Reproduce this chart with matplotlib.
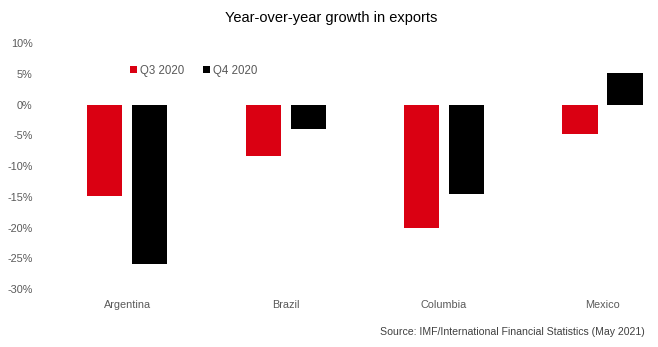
import numpy as np
import matplotlib
matplotlib.use("Agg")
import matplotlib.pyplot as plt
from matplotlib.ticker import FuncFormatter

plt.rcParams['font.family'] = ['Liberation Sans', 'DejaVu Sans']

countries = ["Argentina", "Brazil", "Columbia", "Mexico"]
q3_2020 = [-14.9, -8.3, -20.0, -4.8]
q4_2020 = [-26.0, -3.9, -14.6, 5.2]
yticks = [10, 5, 0, -5, -10, -15, -20, -25, -30]

red = "#DA0012"
grey = "#595959"

fig = plt.figure(figsize=(6.58, 3.47), dpi=100)
ax = fig.add_axes([48 / 658, 1 - 289 / 347, 610 / 658, (289 - 43.3) / 347])

x = np.arange(len(countries))
w = 0.222
off = 0.142
ax.bar(x - off, q3_2020, width=w, color=red, label="Q3 2020")
ax.bar(x + off, q4_2020, width=w, color="black", label="Q4 2020")

ax.set_xlim(-0.5, 3.35)
ax.set_ylim(-30, 10)
ax.set_yticks(yticks)
ax.yaxis.set_major_formatter(FuncFormatter(lambda v, p: f"{v:.0f}%"))
ax.set_xticks(x)
ax.set_xticklabels(countries)
ax.tick_params(axis='y', length=0, labelsize=7.8, labelcolor=grey, pad=11)
ax.tick_params(axis='x', length=0, labelsize=7.8, labelcolor=grey, pad=8)
for s in ax.spines.values():
    s.set_visible(False)

leg = ax.legend(loc="upper left", bbox_to_anchor=(0.117, 0.955), ncol=2, frameon=False,
                fontsize=8.3, handlelength=0.6, handleheight=0.6, handletextpad=0.3,
                columnspacing=1.6)
for t in leg.get_texts():
    t.set_color(grey)

fig.text(0.503, 0.948, "Year-over-year growth in exports", ha="center", va="center",
         fontsize=10.5, color="black")
fig.text(0.98, 0.043, "Source: IMF/International Financial Statistics (May 2021)",
         ha="right", va="center", fontsize=7.6, color="#404040")

fig.savefig("out.png", dpi=100)
